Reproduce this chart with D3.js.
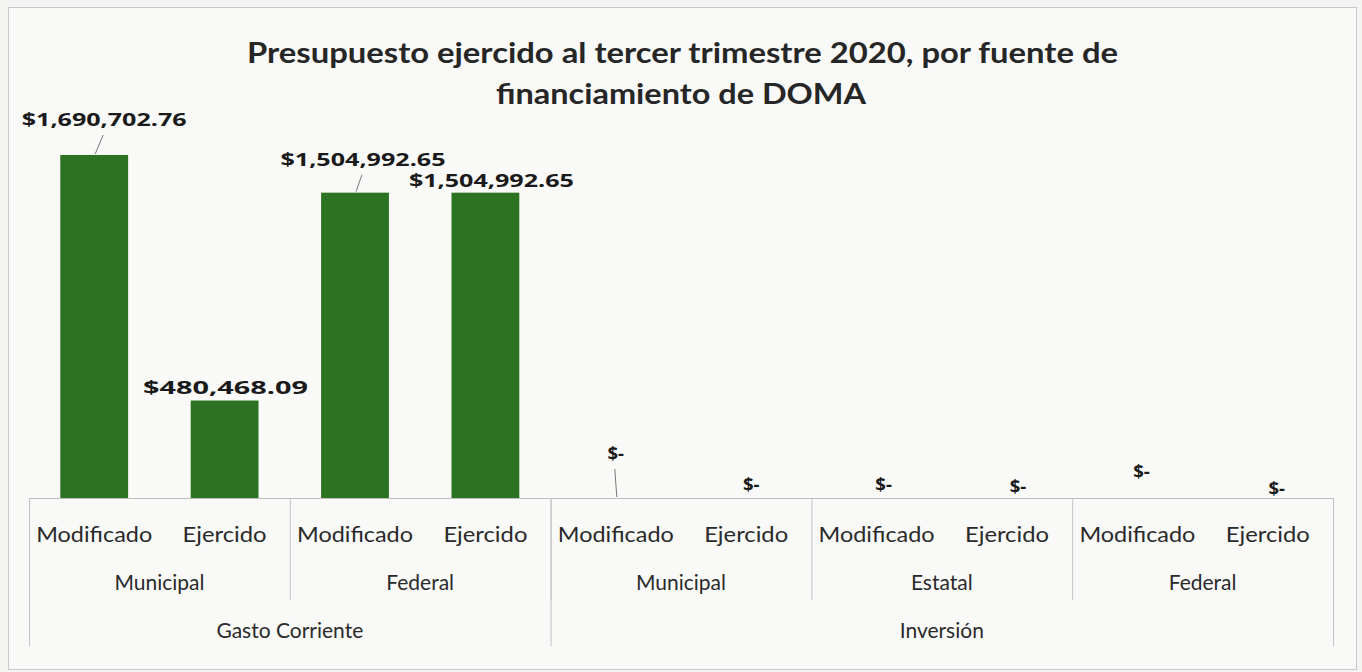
<!DOCTYPE html>
<html><head><meta charset="utf-8">
<script src="https://cdn.jsdelivr.net/npm/d3@7/dist/d3.min.js"></script>
<style>
html,body{margin:0;padding:0;background:#f6f6f4;}
svg{display:block;}
</style></head>
<body>
<svg id="chart" width="1362" height="672"></svg>
<script>
// ---- data ----
const categories = ["Modificado","Ejercido","Modificado","Ejercido","Modificado","Ejercido","Modificado","Ejercido","Modificado","Ejercido"];
const sources = ["Municipal","Federal","Municipal","Estatal","Federal"];
const chapters = ["Gasto Corriente","Inversión"];
const chapterSpans = [2, 3]; // number of sources in each chapter
const values = [1690702.76, 480468.09, 1504992.65, 1504992.65, 0, 0, 0, 0, 0, 0];
const titleLines = ["Presupuesto ejercido al tercer trimestre 2020, por fuente de", "financiamiento de DOMA"];

// ---- layout (styles/positions) ----
const W = 1362, H = 672;
const plot = {left: 29, right: 1333, top: 155, base: 498};
// label offsets relative to bar center/top: [dx, dy, leader]
const labelOffsets = [[10,-29,true],[1,-7,false],[8,-27,true],[6,-6,false],[0,-38,true],[5,-7,false],[7,-7,false],[11,-5,false],[4,-20,false],[9,-3,false]];

const svg = d3.select("#chart");
svg.append("rect").attr("x",0).attr("y",0).attr("width",W).attr("height",H).attr("fill","#f4f4f2");
svg.append("rect").attr("x",8.5).attr("y",7.5).attr("width",1348).attr("height",662)
  .attr("fill","#f9f9f8").attr("stroke","#c8c8c8").attr("stroke-width",1);

const idx = d3.range(categories.length);
const x = d3.scaleBand().domain(idx).range([plot.left, plot.right]).paddingInner(0.48).paddingOuter(0.24);
const y = d3.scaleLinear().domain([0, d3.max(values)]).range([plot.base, plot.top]);

// title
const title = svg.append("g");
titleLines.forEach((t,i)=>{
  title.append("text").attr("x", i===0 ? 682.5 : 681).attr("y", i===0 ? 63 : 104)
    .attr("text-anchor","middle").attr("font-family","Lato, sans-serif").attr("font-weight","bold")
    .attr("font-size",28).attr("fill","#262626")
    .attr("textLength", i===0 ? 871 : 370).attr("lengthAdjust","spacingAndGlyphs").text(t);
});

// bars
svg.append("g").selectAll("rect").data(values).join("rect")
  .attr("x",(d,i)=>x(i)).attr("width",x.bandwidth())
  .attr("y",d=>y(d)).attr("height",d=>plot.base-y(d))
  .attr("fill","#2b7222");

// x axis line
svg.append("line").attr("x1",plot.left).attr("x2",plot.right).attr("y1",plot.base+0.5).attr("y2",plot.base+0.5)
  .attr("stroke","#bdbdbd").attr("stroke-width",1.2);

// data labels
const fmt = v => v === 0 ? "$-" : d3.format("$,.2f")(v);
const lbl = svg.append("g");
values.forEach((v,i)=>{
  const cx = x(i) + x.bandwidth()/2;
  const top = y(v);
  const [dx, dy, leader] = labelOffsets[i];
  const t = lbl.append("text").attr("x", cx+dx).attr("y", top+dy).attr("text-anchor","middle")
    .attr("font-family","'Open Sans', sans-serif").attr("font-weight","bold").attr("font-size",18.5)
    .attr("fill","#1a1a1a").text(fmt(v));
  if (v !== 0) t.attr("textLength",165).attr("lengthAdjust","spacingAndGlyphs");
  if (leader) {
    lbl.append("line").attr("x1", cx+dx-1).attr("y1", top+dy+9).attr("x2", cx+1).attr("y2", top-1)
      .attr("stroke","#777").attr("stroke-width",1);
  }
});

// hierarchical axis
const ax = svg.append("g").attr("font-family","Lato, sans-serif").attr("fill","#2a2a2a");
const step = x.step();
idx.forEach(i=>{
  const cx = plot.left + step*(i+0.5);
  ax.append("text").attr("x",cx).attr("y",542).attr("text-anchor","middle").attr("font-size",21)
    .attr("textLength", categories[i]==="Modificado" ? 116 : 84).attr("lengthAdjust","spacingAndGlyphs")
    .text(categories[i]);
});
const grpW = (plot.right-plot.left)/sources.length;
sources.forEach((s,j)=>{
  const cx = plot.left + grpW*(j+0.5);
  ax.append("text").attr("x",cx).attr("y",590).attr("text-anchor","middle").attr("font-size",21).text(s);
  if (j>0) ax.append("line").attr("x1",plot.left+grpW*j+0.5).attr("x2",plot.left+grpW*j+0.5)
    .attr("y1",plot.base).attr("y2",600).attr("stroke","#c4c4c4");
});
let start = 0;
chapters.forEach((c,k)=>{
  const x0 = plot.left + grpW*start, x1 = plot.left + grpW*(start+chapterSpans[k]);
  ax.append("text").attr("x",(x0+x1)/2).attr("y",638).attr("text-anchor","middle").attr("font-size",21).text(c);
  ax.append("line").attr("x1",x0+0.5).attr("x2",x0+0.5).attr("y1",plot.base).attr("y2",646).attr("stroke","#c4c4c4");
  start += chapterSpans[k];
});
ax.append("line").attr("x1",plot.right+0.5).attr("x2",plot.right+0.5).attr("y1",plot.base).attr("y2",646).attr("stroke","#c4c4c4");
</script>
</body></html>
